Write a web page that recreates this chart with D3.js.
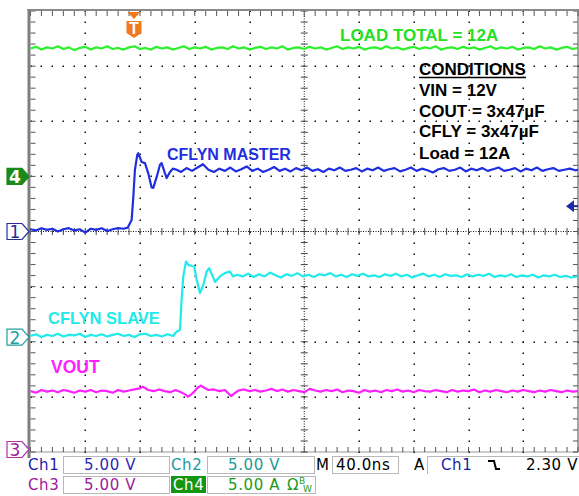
<!DOCTYPE html>
<html><head><meta charset="utf-8">
<script src="https://cdn.jsdelivr.net/npm/d3@7/dist/d3.min.js"></script>
<style>body{margin:0;background:#fff;overflow:hidden}</style>
</head><body><svg id="c" width="579" height="496"></svg>
<script>
// ---- data (time in ns, values in V or A) ----
const timeTicks = [0,40,80,120,160,200,240,280,320,360,400];
const divTicks = [-4,-3,-2,-1,0,1,2,3,4];
const channelOffsets = {ch1:0, ch2:-1.915, ch3:-3.955, ch4:1.0}; // divisions
const voltsPerDiv = 5;
const triggerTime = 75.6;
const triggerLevel = 2.30;

const ch1 = [[0,0.2],[4,0.1],[8,0.3],[12,0.15],[16,0.25],[20,0.0],[24,0.2],[28,0.3],[32,0.1],[36,0.2],[40,-0.1],[44,0.25],[48,0.15],[52,0.3],[56,0.05],[60,0.2],[64,0.3],[68,0.25],[71,0.35],[73.9,1.05],[75.1,3.1],[76.3,5.6],[78,6.95],[78.7,7.1],[80,6.7],[81.2,6.3],[83.6,6.2],[86,5.3],[88.5,4.0],[89.7,3.95],[92.2,4.95],[94.6,6.05],[95.8,6.2],[98.2,5.3],[99.5,4.85],[101.9,5.4],[104,5.7],[106.8,5.6],[110,5.4],[114,5.75],[118,5.5],[122,5.8],[126,6.1],[130,5.6],[134,5.4],[138,5.7],[142,5.5],[146,5.8],[150,5.45],[154,5.65],[158,5.9],[162,5.5],[166,5.7],[170,5.4],[174,5.6],[178,5.85],[182,5.5],[186,5.7],[190,5.45],[194,5.75],[198,5.55],[202,5.8],[206,5.5],[210,5.65],[214,5.4],[218,5.7],[222,5.55],[226,5.8],[230,5.5],[234,5.6],[238,5.75],[242,5.45],[246,5.7],[250,5.55],[254,5.8],[258,5.5],[262,5.65],[266,5.75],[270,5.45],[274,5.6],[278,5.8],[282,5.5],[286,5.7],[290,5.55],[294,5.35],[298,5.65],[302,5.75],[306,5.5],[310,5.6],[314,5.8],[318,5.45],[322,5.7],[326,5.55],[330,5.75],[334,5.5],[338,5.65],[342,5.8],[346,5.5],[350,5.6],[354,5.75],[358,5.45],[362,5.7],[366,5.55],[370,5.8],[374,5.5],[378,5.65],[382,5.75],[386,5.5],[390,5.6],[394,5.7],[398,5.55],[400,5.6]];

const ch2 = [[0,0.1],[4,0.25],[8,0.0],[12,0.2],[16,0.1],[20,0.3],[24,0.05],[28,0.2],[32,0.15],[36,0.3],[40,0.0],[44,0.2],[48,0.1],[52,0.25],[56,0.05],[60,0.2],[64,0.3],[68,0.1],[72,0.2],[76,0.0],[80,0.25],[84,0.3],[88,0.1],[92,0.2],[96,0.05],[100,0.25],[104.1,0.1],[106.8,0.5],[109.2,0.65],[110.4,3.4],[111.6,5.5],[113.6,6.85],[115.3,6.55],[117.7,6.45],[119.6,6.4],[121.4,5.2],[123.8,4.0],[126.2,4.7],[128.7,5.95],[130.6,6.25],[133.1,5.5],[134.8,5.0],[138.4,5.5],[142,5.8],[145.7,5.95],[147.9,5.5],[151,5.65],[155,5.5],[159,5.75],[163,5.45],[167,5.7],[171,5.5],[175,5.85],[179,5.6],[183,5.4],[187,5.7],[191,5.55],[195,5.8],[199,5.5],[203,5.65],[207,5.45],[211,5.7],[215,5.6],[219,5.8],[223,5.5],[227,5.65],[231,5.45],[235,5.7],[239,5.55],[243,5.75],[247,5.5],[251,5.6],[255,5.45],[259,5.7],[263,5.55],[267,5.75],[271,5.5],[275,5.65],[279,5.4],[283,5.6],[287,5.75],[291,5.5],[295,5.65],[299,5.45],[303,5.7],[307,5.55],[311,5.6],[315,5.45],[319,5.7],[323,5.5],[327,5.65],[331,5.55],[335,5.75],[339,5.45],[343,5.6],[347,5.5],[351,5.7],[355,5.45],[359,5.6],[363,5.5],[367,5.65],[371,5.4],[375,5.6],[379,5.5],[383,5.65],[387,5.45],[391,5.55],[395,5.4],[400,5.5]];

const ch3 = [[0,5.3],[4,5.15],[8,5.4],[12,5.25],[16,5.35],[20,5.2],[24,5.4],[28,5.3],[32,5.15],[36,5.35],[40,5.25],[44,5.4],[48,5.2],[52,5.35],[56,5.3],[60,5.15],[64,5.4],[68,5.25],[72,5.35],[76,5.45],[80,5.55],[82,5.7],[86,5.4],[90,5.3],[94,5.45],[98,5.3],[102,5.2],[106,5.4],[110,5.2],[113,5.0],[115,4.8],[117,4.95],[120,5.3],[122,5.6],[124.5,5.8],[127,5.6],[130,5.4],[134,5.45],[138,5.3],[142,5.4],[146.5,4.85],[149,5.1],[152,5.35],[156,5.45],[160,5.3],[164,5.4],[168,5.25],[172,5.35],[176,5.5],[180,5.3],[184,5.45],[188,5.25],[192,5.4],[196,5.3],[200,5.2],[204,5.5],[208,5.35],[212,5.25],[216,5.4],[220,5.3],[224,5.45],[228,5.2],[232,5.35],[236,5.3],[240,5.15],[244,5.4],[248,5.25],[252,5.35],[256,5.2],[260,5.4],[264,5.3],[268,5.45],[272,5.25],[276,5.35],[280,5.2],[284,5.4],[288,5.3],[292,5.25],[296,5.4],[300,5.3],[304,5.2],[308,5.4],[312,5.25],[316,5.35],[320,5.3],[324,5.45],[328,5.2],[332,5.35],[336,5.25],[340,5.4],[344,5.3],[348,5.2],[352,5.35],[356,5.25],[360,5.4],[364,5.3],[368,5.2],[372,5.35],[376,5.25],[380,5.4],[384,5.3],[388,5.2],[392,5.35],[396,5.25],[400,5.3]];

const ch4 = [[0,11.6],[4,11.75],[8,11.5],[12,11.7],[16,11.6],[20,11.8],[24,11.55],[28,11.7],[32,11.45],[36,11.65],[40,11.75],[44,11.5],[48,11.7],[52,11.6],[56,11.8],[60,11.55],[64,11.65],[68,11.5],[72,11.7],[76,11.8],[80,11.55],[84,11.65],[88,11.5],[92,11.75],[96,11.6],[100,11.7],[104,11.5],[108,11.65],[112,11.8],[116,11.55],[120,11.7],[124,11.6],[128,11.75],[132,11.5],[136,11.65],[140,11.7],[144,11.55],[148,11.8],[152,11.6],[156,11.7],[160,11.5],[164,11.65],[168,11.75],[172,11.55],[176,11.7],[180,11.6],[184,11.8],[188,11.5],[192,11.65],[196,11.7],[200,11.55],[204,11.75],[208,11.6],[212,11.7],[216,11.5],[220,11.65],[224,11.8],[228,11.55],[232,11.7],[236,11.6],[240,11.75],[244,11.5],[248,11.65],[252,11.7],[256,11.55],[260,11.8],[264,11.6],[268,11.7],[272,11.5],[276,11.65],[280,11.75],[284,11.55],[288,11.7],[292,11.6],[296,11.8],[300,11.5],[304,11.65],[308,11.7],[312,11.55],[316,11.75],[320,11.6],[324,11.7],[328,11.5],[332,11.65],[336,11.8],[340,11.55],[344,11.7],[348,11.6],[352,11.75],[356,11.5],[360,11.65],[364,11.7],[368,11.55],[372,11.8],[376,11.6],[380,11.7],[384,11.5],[388,11.65],[392,11.75],[396,11.55],[400,11.65]];

const traceLabels = ["LOAD TOTAL = 12A","CFLYN MASTER","CFLYN SLAVE","VOUT"];
const conditions = ["CONDITIONS","VIN = 12V","COUT = 3x47µF","CFLY = 3x47µF","Load = 12A"];
const scaleInfo = {ch1:"5.00 V", ch2:"5.00 V", ch3:"5.00 V", ch4:"5.00 A", time:"40.0ns", trig:"2.30 V"};

// ---- drawing ----
const svg = d3.select("#c");
const x = d3.scaleLinear().domain([0,400]).range([30.5,578]);
const yDiv = d3.scaleLinear().domain([-4,4]).range([452,11]);
const yCh = ch => v => yDiv(channelOffsets[ch] + v/voltsPerDiv);

const xMinor = d3.range(0,400.001,8);
const yMinor = d3.range(-4,4.001,0.2);
const grid = svg.append("g");
const dot = "#111";

timeTicks.slice(1,-1).filter(t=>t!==200).forEach(t=>{
  grid.selectAll(null).data(yMinor).enter().append("rect")
    .attr("x",Math.round(x(t))-0.5).attr("y",d=>Math.round(yDiv(d))-0.5).attr("width",1.5).attr("height",1.5).attr("fill",dot);
});
divTicks.slice(1,-1).filter(d=>d!==0).forEach(dv=>{
  grid.selectAll(null).data(xMinor).enter().append("rect")
    .attr("x",d=>Math.round(x(d))-0.5).attr("y",Math.round(yDiv(dv))-0.5).attr("width",1.5).attr("height",1.5).attr("fill",dot);
});
grid.append("line").attr("x1",x(0)).attr("x2",x(400)).attr("y1",yDiv(0)).attr("y2",yDiv(0))
  .attr("stroke",dot).attr("stroke-width",1).attr("stroke-dasharray","1,1.5");
grid.append("line").attr("x1",x(200)).attr("x2",x(200)).attr("y1",yDiv(4)).attr("y2",yDiv(-4))
  .attr("stroke",dot).attr("stroke-width",1).attr("stroke-dasharray","1,1.5");
grid.selectAll(null).data(xMinor).enter().append("line")
  .attr("x1",d=>x(d)).attr("x2",d=>x(d)).attr("y1",yDiv(0)-3.5).attr("y2",yDiv(0)+3.5)
  .attr("stroke","#444").attr("stroke-width",1);
grid.selectAll(null).data(yMinor).enter().append("line")
  .attr("y1",d=>yDiv(d)).attr("y2",d=>yDiv(d)).attr("x1",x(200)-3.5).attr("x2",x(200)+3.5)
  .attr("stroke","#444").attr("stroke-width",1);
grid.selectAll(null).data(xMinor).enter().append("line")
  .attr("x1",d=>x(d)).attr("x2",d=>x(d)).attr("y1",yDiv(4)).attr("y2",yDiv(4)+5).attr("stroke","#555");
grid.selectAll(null).data(xMinor).enter().append("line")
  .attr("x1",d=>x(d)).attr("x2",d=>x(d)).attr("y1",yDiv(-4)).attr("y2",yDiv(-4)-5).attr("stroke","#555");
grid.selectAll(null).data(yMinor).enter().append("line")
  .attr("y1",d=>yDiv(d)).attr("y2",d=>yDiv(d)).attr("x1",x(0)).attr("x2",x(0)+5).attr("stroke","#555");
grid.selectAll(null).data(yMinor).enter().append("line")
  .attr("y1",d=>yDiv(d)).attr("y2",d=>yDiv(d)).attr("x1",x(400)).attr("x2",x(400)-5).attr("stroke","#555");
grid.append("line").attr("x1",x(0)).attr("x2",x(400)).attr("y1",yDiv(-4)).attr("y2",yDiv(-4))
  .attr("stroke","#333").attr("stroke-dasharray","1,1");
grid.append("line").attr("x1",x(400)).attr("x2",x(400)).attr("y1",yDiv(4)).attr("y2",yDiv(-4))
  .attr("stroke","#666").attr("stroke-width",1.2);
grid.append("line").attr("x1",x(0)-3).attr("x2",579).attr("y1",yDiv(4)-1).attr("y2",yDiv(4)-1)
  .attr("stroke","#8a8a8a").attr("stroke-width",2.2);
grid.append("line").attr("x1",x(0)-1.5).attr("x2",x(0)-1.5).attr("y1",yDiv(4)-2).attr("y2",yDiv(-4)+6)
  .attr("stroke","#7f7f7f").attr("stroke-width",3);

// traces
const traces = [
  {data:ch4, ch:"ch4", color:"#2cf02c"},
  {data:ch1, ch:"ch1", color:"#1f2fe0"},
  {data:ch2, ch:"ch2", color:"#22eaea"},
  {data:ch3, ch:"ch3", color:"#ff20ff"}
];
traces.forEach(tr=>{
  const yf = yCh(tr.ch);
  svg.append("path").datum(tr.data)
    .attr("d", d3.line().x(d=>x(d[0])).y(d=>yf(d[1])))
    .attr("fill","none").attr("stroke",tr.color).attr("stroke-width",2.2).attr("stroke-linejoin","round");
});

// trace labels
const lab = (t,xx,yy,c,fs)=>svg.append("text").attr("x",xx).attr("y",yy).text(t)
  .attr("fill",c).attr("font-family","Liberation Sans, Arial, sans-serif").attr("font-weight","bold").attr("font-size",fs);
lab(traceLabels[0],340,41,"#22e022",17);
lab(traceLabels[1],167,160,"#1f2fe0",16);
lab(traceLabels[2],48,324,"#22eaea",16.5);
lab(traceLabels[3],51,373,"#ff20ff",17.5);

// conditions
const condY = [75,96,117,137,159];
conditions.forEach((c,i)=>{ lab(c,419,condY[i],"#000",17); });
svg.append("line").attr("x1",419).attr("x2",526).attr("y1",77.5).attr("y2",77.5).attr("stroke","#000").attr("stroke-width",1.5);

// channel markers
const marker = (ch,label,stroke,fill,tc)=>{
  const yy = yDiv(channelOffsets[ch]);
  const g = svg.append("g");
  g.append("path").attr("d",`M7,${yy-8} H22 L29,${yy} L22,${yy+8} H7 Z`)
    .attr("fill",fill).attr("stroke",stroke).attr("stroke-width",1.2);
  g.append("text").attr("x",15).attr("y",yy+6.5).attr("text-anchor","middle").text(label)
    .attr("fill",tc).attr("font-family","DejaVu Sans, sans-serif").attr("font-size",17).attr("font-weight", fill==="#fff"?"normal":"bold");
};
marker("ch4","4","#1a8a1a","#1a8a1a","#fff");
marker("ch1","1","#2a2aa0","#fff","#2a2aa0");
marker("ch2","2","#20a0a0","#fff","#20a0a0");
marker("ch3","3","#b030b0","#fff","#a020a0");

// trigger T marker
const tx = x(triggerTime);
svg.append("path").attr("d",`M${tx-6.5},12 H${tx+6.5} L${tx},19 Z`).attr("fill","#f07a1c");
svg.append("path").attr("d",`M${tx-7.5},21 H${tx+7.5} V33 L${tx},38 L${tx-7.5},33 Z`).attr("fill","#f07a1c");
svg.append("text").attr("x",tx).attr("y",34).attr("text-anchor","middle").text("T")
  .attr("fill","#fff").attr("font-family","Liberation Sans, sans-serif").attr("font-weight","bold").attr("font-size",16);

// trigger level arrow
const ty = yCh("ch1")(triggerLevel);
svg.append("path").attr("d",`M566,${ty} L574,${ty-6} V${ty+6} Z`).attr("fill","#1c2aa8");
svg.append("line").attr("x1",572).attr("x2",578).attr("y1",ty).attr("y2",ty).attr("stroke","#1c2aa8").attr("stroke-width",2);

// bottom panel
const pf = "DejaVu Sans, sans-serif";
const ptxt = (t,xx,yy,c,anchor)=>svg.append("text").attr("x",xx).attr("y",yy).text(t)
  .attr("fill",c).attr("font-family",pf).attr("font-size",15).attr("letter-spacing",0.6).attr("text-anchor",anchor||"start");
const pbox = (x0,y0,w,h)=>svg.append("rect").attr("x",x0+0.5).attr("y",y0+0.5).attr("width",w).attr("height",h)
  .attr("fill","#fff").attr("stroke","#b8b8b8").attr("stroke-width",1);
pbox(63,456,106,17); pbox(207,456,107,17); pbox(332,456,66,17);
pbox(63,476,106,17); pbox(207,476,108,17);
svg.append("path").attr("d","M427.5,474 V456.5 H579").attr("fill","none").attr("stroke","#b8b8b8");
ptxt("Ch1",28,470,"#1c1ca8"); ptxt(scaleInfo.ch1,84,470,"#2a2ab8");
ptxt("Ch2",171,470,"#1a9a9a"); ptxt(scaleInfo.ch2,228,470,"#1a9a9a");
ptxt("M",316,470,"#000"); ptxt(scaleInfo.time,336,470,"#000");
ptxt("A",414,470,"#000"); ptxt("Ch1",441,470,"#1c1ca8");
svg.append("path").attr("d","M488,461 H494 L496,469 H500").attr("fill","none").attr("stroke","#000").attr("stroke-width",2);
ptxt(scaleInfo.trig,578,470,"#000","end");
ptxt("Ch3",28,490,"#9a1a9a"); ptxt(scaleInfo.ch3,84,490,"#9a1a9a");
svg.append("rect").attr("x",171).attr("y",476).attr("width",35).attr("height",17).attr("fill","#149614");
ptxt("Ch4",173,490,"#fff");
ptxt(scaleInfo.ch4,228,490,"#1a9a1a");
svg.append("text").attr("x",287).attr("y",490).attr("fill","#1a9a1a").attr("font-family",pf).attr("font-size",15).text("Ω");
svg.append("text").attr("x",299).attr("y",484).attr("fill","#1a9a1a").attr("font-family",pf).attr("font-size",9).text("B");
svg.append("text").attr("x",303).attr("y",492).attr("fill","#1a9a1a").attr("font-family",pf).attr("font-size",9).text("W");
</script></body></html>
